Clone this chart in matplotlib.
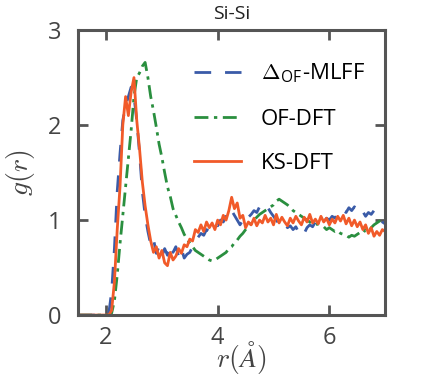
import numpy as np
import matplotlib.pyplot as plt

plt.rcParams['font.family'] = ['Open Sans', 'DejaVu Sans']
plt.rcParams['mathtext.fontset'] = 'cm'

# radial grid (Angstrom)
r = [1.50, 2.00, 2.05, 2.10, 2.15, 2.20, 2.25, 2.30, 2.35, 2.40, 2.45,
     2.50, 2.55, 2.60, 2.65, 2.70, 2.75, 2.80, 2.85, 2.90, 2.95,
     3.00, 3.05, 3.10, 3.15, 3.20, 3.25, 3.30, 3.35, 3.40, 3.45,
     3.50, 3.55, 3.60, 3.65, 3.70, 3.75, 3.80, 3.85, 3.90, 3.95,
     4.00, 4.05, 4.10, 4.15, 4.20, 4.25, 4.30, 4.35, 4.40, 4.45,
     4.50, 4.55, 4.60, 4.65, 4.70, 4.75, 4.80, 4.85, 4.90, 4.95,
     5.00, 5.05, 5.10, 5.15, 5.20, 5.25, 5.30, 5.35, 5.40, 5.45,
     5.50, 5.55, 5.60, 5.65, 5.70, 5.75, 5.80, 5.85, 5.90, 5.95,
     6.00, 6.05, 6.10, 6.15, 6.20, 6.25, 6.30, 6.35, 6.40, 6.45,
     6.50, 6.55, 6.60, 6.65, 6.70, 6.75, 6.80, 6.85, 6.90, 6.95, 7.00]

g_mlff = [0, 0, 0.02, 0.25, 0.70, 1.30, 1.70, 2.05, 2.20, 2.30, 2.40,
          2.30, 2.05, 1.70, 1.30, 1.05, 0.88, 0.74, 0.80, 0.65, 0.72,
          0.62, 0.70, 0.63, 0.74, 0.66, 0.72, 0.62, 0.70, 0.60, 0.64,
          0.66, 0.72, 0.78, 0.82, 0.86, 0.84, 0.90, 0.88, 0.93, 0.96,
          0.94, 1.00, 0.98, 1.04, 1.02, 1.10, 1.05, 1.00, 0.95, 1.00,
          0.97, 1.03, 1.06, 1.10, 1.08, 1.14, 1.12, 1.16, 1.13, 1.08,
          1.04, 1.00, 0.96, 0.95, 0.98, 0.92, 0.94, 0.90, 0.93, 0.87,
          0.90, 0.86, 0.92, 0.95, 0.93, 0.98, 0.96, 1.00, 0.98, 1.02,
          1.00, 1.04, 1.02, 1.07, 1.05, 1.10, 1.08, 1.13, 1.10, 1.14,
          1.10, 1.06, 1.09, 1.04, 1.08, 1.06, 1.10, 1.05, 1.02, 0.98, 0.96]

g_of = [0, 0, 0, 0.02, 0.15, 0.42, 0.75, 1.05, 1.35, 1.65, 1.95,
        2.30, 2.50, 2.55, 2.62, 2.66, 2.50, 2.30, 2.15, 1.98, 1.80,
        1.66, 1.50, 1.35, 1.25, 1.12, 1.05, 0.98, 0.92, 0.85, 0.80,
        0.76, 0.72, 0.68, 0.66, 0.64, 0.62, 0.60, 0.58, 0.57, 0.58,
        0.60, 0.62, 0.64, 0.66, 0.70, 0.72, 0.76, 0.79, 0.83, 0.86,
        0.90, 0.94, 0.96, 1.00, 1.03, 1.06, 1.08, 1.10, 1.12, 1.14,
        1.16, 1.20, 1.22, 1.20, 1.18, 1.16, 1.13, 1.10, 1.08, 1.06,
        1.04, 1.02, 1.00, 0.98, 0.96, 0.95, 0.96, 0.94, 0.93, 0.90,
        0.92, 0.90, 0.88, 0.89, 0.86, 0.85, 0.84, 0.82, 0.84, 0.83,
        0.85, 0.87, 0.86, 0.90, 0.88, 0.92, 0.95, 0.97, 0.99, 1.00, 1.02]

g_ks = [0, 0, 0, 0.05, 0.35, 0.90, 1.35, 2.00, 2.30, 2.10, 2.35,
        2.50, 2.05, 1.75, 1.40, 1.15, 0.95, 0.78, 0.66, 0.72, 0.60,
        0.68, 0.55, 0.52, 0.66, 0.58, 0.62, 0.70, 0.65, 0.74, 0.72,
        0.80, 0.78, 0.90, 0.87, 0.95, 0.88, 0.98, 0.92, 0.97, 0.90,
        1.00, 0.95, 1.05, 1.00, 1.10, 1.24, 1.12, 1.18, 1.02, 1.05,
        0.92, 0.98, 0.95, 1.02, 0.94, 1.00, 0.97, 1.05, 0.98, 1.02,
        0.95, 1.06, 0.97, 1.03, 0.98, 0.94, 1.02, 0.97, 1.04, 0.99,
        0.95, 1.03, 0.98, 1.06, 0.97, 1.01, 0.96, 1.04, 0.98, 1.02,
        0.95, 1.01, 0.97, 1.04, 0.99, 1.05, 0.96, 1.02, 0.94, 1.00,
        0.93, 0.98, 0.90, 0.95, 0.86, 0.92, 0.83, 0.88, 0.84, 0.90, 0.88]

fig = plt.figure(figsize=(4.27, 3.81), dpi=100)
ax = fig.add_axes([0.183, 0.173, 0.719, 0.748])

ax.plot(r, g_mlff, color='#3a5ba8', lw=2.0, dashes=(6, 5),
        label=r'$\Delta_{\mathregular{OF}}$-MLFF')
ax.plot(r, g_of, color='#2a8f3f', lw=2.0, dashes=(5, 2, 1.2, 2),
        label='OF-DFT')
ax.plot(r, g_ks, color='#f15a29', lw=2.0, label='KS-DFT')

ax.set_xlim(1.5, 7.0)
ax.set_ylim(0, 3)
ax.set_xticks([2, 4, 6])
ax.set_yticks([0, 1, 2, 3])

for s in ax.spines.values():
    s.set_color('#555555')
    s.set_linewidth(2.2)
ax.tick_params(direction='in', length=7, width=2, color='#555555',
               labelcolor='#444444', labelsize=17, top=True, right=True)
ax.tick_params(axis='x', pad=8)
ax.tick_params(axis='y', pad=12)

ax.set_title('Si-Si', fontsize=14, color='#222222', pad=8)
ax.set_xlabel(r'$r(\AA)$', fontsize=20, color='#444444')
ax.xaxis.set_label_coords(0.53, -0.085)
ax.set_ylabel(r'$g(r)$', fontsize=20, color='#444444', labelpad=8)

ax.legend(loc='upper right', frameon=False, fontsize=16, handlelength=2.1,
          labelspacing=1.05, handletextpad=0.9, bbox_to_anchor=(1.0, 0.96))

fig.savefig('out.png', dpi=100)
